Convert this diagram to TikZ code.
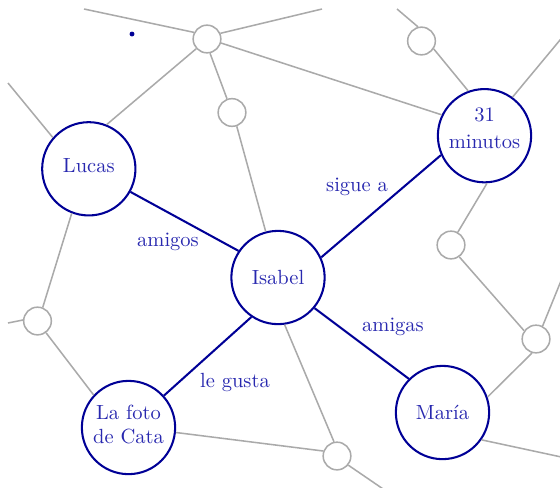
\documentclass[tikz,border=0pt]{standalone}
\begin{document}
\definecolor{navy}{RGB}{0,0,150}
\definecolor{txtblue}{RGB}{40,40,175}
\definecolor{edgegray}{RGB}{170,170,170}
\newcommand{\mydp}[1]{\rule[-#1]{0pt}{#1}}
\begin{tikzpicture}[x=0.4878pt,y=-0.4878pt,
 big/.style={circle,draw=navy,line width=1pt,minimum size=45.5pt,inner sep=0pt,text=txtblue,align=center},
 small/.style={circle,draw=edgegray,line width=0.75pt,minimum size=13.5pt,inner sep=0pt},
 gline/.style={draw=edgegray,line width=0.75pt},
 bline/.style={draw=navy,line width=1pt},
 lbl/.style={text=txtblue,inner sep=0pt}]
\useasboundingbox (0,0) rectangle (560,487);
\clip (0,0) rectangle (560,487);
% main nodes
\node[big] (lucas) at (88.8,168.8) {Lucas\mydp{3.4pt}};
\node[big] (isabel) at (278,277.5) {Isabel};
\node[big] (min) at (484.5,135.7) {31\\[0.9pt]minutos\mydp{7.5pt}};
\node[big] (maria) at (442.5,412.5) {Mar\'ia};
\node[big] (foto) at (128.5,427.5) {La foto\\de Cata\mydp{3.2pt}};
% small nodes
\node[small] (s1) at (207,39) {};
\node[small] (s2) at (232,112.5) {};
\node[small] (s3) at (421.5,41) {};
\node[small] (s4) at (451,245) {};
\node[small] (s5) at (536,339) {};
\node[small] (s6) at (337,456) {};
\node[small] (s7) at (37.5,321) {};
% dot
\node[circle,fill=navy,inner sep=0pt,minimum size=2.4pt] (dot) at (132,34) {};
% free ends
\coordinate (e1) at (84,9);
\coordinate (e2) at (322,9);
\coordinate (e3) at (8,83);
\coordinate (e4) at (8,323);
\coordinate (e5) at (389,493);
\coordinate (e6) at (566,458);
\coordinate (e7) at (565,271);
\coordinate (e8) at (565,34);
\coordinate (e9) at (397,9);
% gray lines
\draw[gline] (e1) -- (s1.153);
\draw[gline] (s1.23) -- (e2);
\draw[gline] (s1.222) -- (lucas.68);
\draw[gline] (s1.282) -- (s2.110);
\draw[gline] (s1.344) -- (min.154);
\draw[gline] (s2.289) -- (isabel.105);
\draw[gline] (e3) -- (lucas.139.5);
\draw[gline] (lucas.249) -- (s7.69);
\draw[gline] (e4) -- (s7.176);
\draw[gline] (s7.306) -- (foto.137.5);
\draw[gline] (foto.354.6) -- (s6.160);
\draw[gline] (isabel.278.4) -- (s6.102);
\draw[gline] (s6.321) -- (e5);
\draw[gline] (maria.325) -- (e6);
\draw[gline] (maria.19) -- (s5.254);
\draw[gline] (s5.63) -- (e7);
\draw[gline] (s4.305) -- (s5.145);
\draw[gline] (min.273) -- (s4.62);
\draw[gline] (min.54.5) -- (e8);
\draw[gline] (s3.327) -- (min.110);
\draw[gline] (e9) -- (s3.104);
% blue lines
\draw[bline] (lucas.331.6) -- (isabel.146.5);
\draw[bline] (isabel.25) -- (min.204.6);
\draw[bline] (isabel.320.5) -- (maria.135);
\draw[bline] (isabel.236.6) -- (foto.42.5);
% labels
\node[lbl] (l1) at (168,242) {amigos};
\node[lbl] (l2) at (357,187) {sigue a};
\node[lbl] (l3) at (393,327) {amigas};
\node[lbl] (l4) at (235,382) {le gusta};
\end{tikzpicture}
\end{document}
